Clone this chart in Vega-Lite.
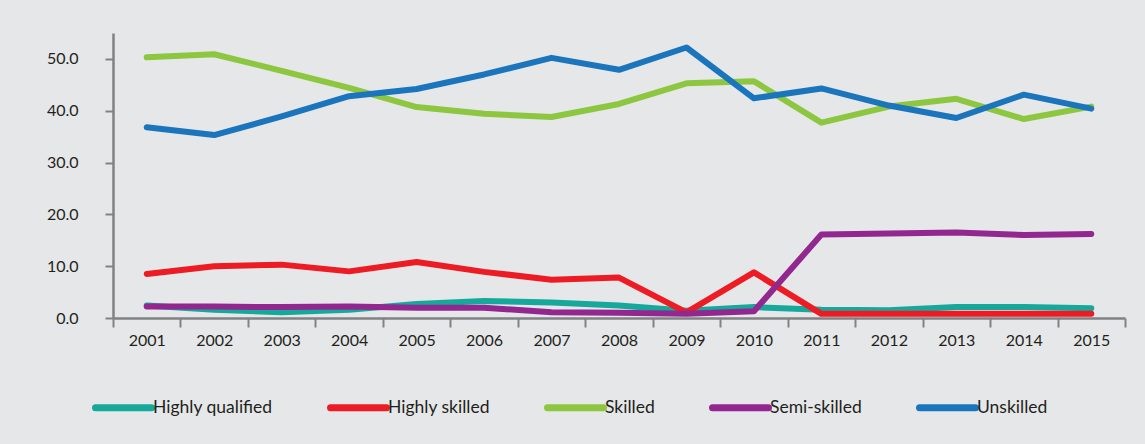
{
  "$schema": "https://vega.github.io/schema/vega-lite/v6.json",
  "width": 1012,
  "height": 285,
  "autosize": {"type": "none"},
  "padding": {"left": 113, "top": 33, "right": 20, "bottom": 126},
  "background": "#e6e7e8",
  "config": {"view": {"stroke": null}, "font": "Lato"},
  "data": {
    "values": [
      {"year": "2001", "category": "Highly qualified", "value": 2.4},
      {"year": "2002", "category": "Highly qualified", "value": 1.6},
      {"year": "2003", "category": "Highly qualified", "value": 1.1},
      {"year": "2004", "category": "Highly qualified", "value": 1.6},
      {"year": "2005", "category": "Highly qualified", "value": 2.7},
      {"year": "2006", "category": "Highly qualified", "value": 3.3},
      {"year": "2007", "category": "Highly qualified", "value": 3.0},
      {"year": "2008", "category": "Highly qualified", "value": 2.4},
      {"year": "2009", "category": "Highly qualified", "value": 1.4},
      {"year": "2010", "category": "Highly qualified", "value": 2.1},
      {"year": "2011", "category": "Highly qualified", "value": 1.6},
      {"year": "2012", "category": "Highly qualified", "value": 1.5},
      {"year": "2013", "category": "Highly qualified", "value": 2.1},
      {"year": "2014", "category": "Highly qualified", "value": 2.1},
      {"year": "2015", "category": "Highly qualified", "value": 1.9},
      {"year": "2001", "category": "Highly skilled", "value": 8.5},
      {"year": "2002", "category": "Highly skilled", "value": 10.0},
      {"year": "2003", "category": "Highly skilled", "value": 10.3},
      {"year": "2004", "category": "Highly skilled", "value": 9.0},
      {"year": "2005", "category": "Highly skilled", "value": 10.8},
      {"year": "2006", "category": "Highly skilled", "value": 8.9},
      {"year": "2007", "category": "Highly skilled", "value": 7.4},
      {"year": "2008", "category": "Highly skilled", "value": 7.8},
      {"year": "2009", "category": "Highly skilled", "value": 1.1},
      {"year": "2010", "category": "Highly skilled", "value": 8.8},
      {"year": "2011", "category": "Highly skilled", "value": 0.8},
      {"year": "2012", "category": "Highly skilled", "value": 0.8},
      {"year": "2013", "category": "Highly skilled", "value": 0.8},
      {"year": "2014", "category": "Highly skilled", "value": 0.8},
      {"year": "2015", "category": "Highly skilled", "value": 0.8},
      {"year": "2001", "category": "Skilled", "value": 50.3},
      {"year": "2002", "category": "Skilled", "value": 50.9},
      {"year": "2003", "category": "Skilled", "value": 47.7},
      {"year": "2004", "category": "Skilled", "value": 44.4},
      {"year": "2005", "category": "Skilled", "value": 40.7},
      {"year": "2006", "category": "Skilled", "value": 39.4},
      {"year": "2007", "category": "Skilled", "value": 38.8},
      {"year": "2008", "category": "Skilled", "value": 41.3},
      {"year": "2009", "category": "Skilled", "value": 45.3},
      {"year": "2010", "category": "Skilled", "value": 45.7},
      {"year": "2011", "category": "Skilled", "value": 37.7},
      {"year": "2012", "category": "Skilled", "value": 40.8},
      {"year": "2013", "category": "Skilled", "value": 42.3},
      {"year": "2014", "category": "Skilled", "value": 38.4},
      {"year": "2015", "category": "Skilled", "value": 40.8},
      {"year": "2001", "category": "Semi-skilled", "value": 2.2},
      {"year": "2002", "category": "Semi-skilled", "value": 2.2},
      {"year": "2003", "category": "Semi-skilled", "value": 2.1},
      {"year": "2004", "category": "Semi-skilled", "value": 2.2},
      {"year": "2005", "category": "Semi-skilled", "value": 2.0},
      {"year": "2006", "category": "Semi-skilled", "value": 2.0},
      {"year": "2007", "category": "Semi-skilled", "value": 1.1},
      {"year": "2008", "category": "Semi-skilled", "value": 1.0},
      {"year": "2009", "category": "Semi-skilled", "value": 0.8},
      {"year": "2010", "category": "Semi-skilled", "value": 1.3},
      {"year": "2011", "category": "Semi-skilled", "value": 16.1},
      {"year": "2012", "category": "Semi-skilled", "value": 16.3},
      {"year": "2013", "category": "Semi-skilled", "value": 16.5},
      {"year": "2014", "category": "Semi-skilled", "value": 16.0},
      {"year": "2015", "category": "Semi-skilled", "value": 16.2},
      {"year": "2001", "category": "Unskilled", "value": 36.8},
      {"year": "2002", "category": "Unskilled", "value": 35.3},
      {"year": "2003", "category": "Unskilled", "value": 38.9},
      {"year": "2004", "category": "Unskilled", "value": 42.8},
      {"year": "2005", "category": "Unskilled", "value": 44.2},
      {"year": "2006", "category": "Unskilled", "value": 47.0},
      {"year": "2007", "category": "Unskilled", "value": 50.2},
      {"year": "2008", "category": "Unskilled", "value": 47.9},
      {"year": "2009", "category": "Unskilled", "value": 52.2},
      {"year": "2010", "category": "Unskilled", "value": 42.4},
      {"year": "2011", "category": "Unskilled", "value": 44.3},
      {"year": "2012", "category": "Unskilled", "value": 41.0},
      {"year": "2013", "category": "Unskilled", "value": 38.6},
      {"year": "2014", "category": "Unskilled", "value": 43.1},
      {"year": "2015", "category": "Unskilled", "value": 40.4}
    ]
  },
  "mark": {"type": "line", "strokeWidth": 6, "strokeCap": "round", "strokeJoin": "round"},
  "encoding": {
    "x": {
      "field": "year",
      "type": "ordinal",
      "bandPosition": 0.5,
      "scale": {"type": "band", "paddingInner": 0, "paddingOuter": 0},
      "axis": {
        "title": null,
        "labelAngle": 0,
        "tickBand": "extent",
        "tickSize": 9,
        "tickWidth": 2,
        "tickColor": "#808285",
        "domainColor": "#808285",
        "domainWidth": 2.5,
        "labelFontSize": 16,
        "labelColor": "#231f20",
        "labelPadding": 5
      }
    },
    "y": {
      "field": "value",
      "type": "quantitative",
      "scale": {"domain": [0, 55], "nice": false},
      "axis": {
        "title": null,
        "values": [0, 10, 20, 30, 40, 50],
        "format": ".1f",
        "grid": false,
        "tickSize": 8,
        "tickWidth": 2,
        "tickColor": "#808285",
        "domainColor": "#808285",
        "domainWidth": 2.5,
        "labelFontSize": 16,
        "labelColor": "#231f20",
        "labelPadding": 27
      }
    },
    "color": {
      "field": "category",
      "type": "nominal",
      "sort": ["Highly qualified", "Highly skilled", "Skilled", "Semi-skilled", "Unskilled"],
      "scale": {
        "domain": ["Highly qualified", "Highly skilled", "Skilled", "Semi-skilled", "Unskilled"],
        "range": ["#15a89b", "#ed1c24", "#8dc63f", "#92278f", "#1b75bc"]
      },
      "legend": {
        "title": null,
        "orient": "none",
        "direction": "horizontal",
        "legendX": -21,
        "legendY": 343,
        "padding": 0,
        "symbolType": "stroke",
        "symbolSize": 3136,
        "symbolStrokeWidth": 7,
        "labelFontSize": 17.5,
        "labelColor": "#231f20",
        "labelOffset": -2,
        "columnPadding": 43,
        "encode": {"symbols": {"update": {"strokeCap": {"value": "round"}}}}
      }
    }
  }
}
